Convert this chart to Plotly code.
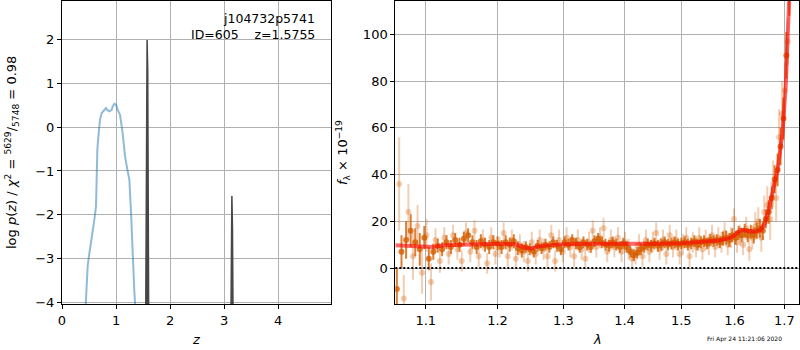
import plotly.graph_objects as go

# ---------------- left panel: log p(z) ----------------
prior_z = [0.40, 0.444, 0.475, 0.506, 0.549, 0.599, 0.630, 0.654, 0.679, 0.704, 0.735,
           0.778, 0.815, 0.840, 0.877, 0.920, 0.938, 0.969, 1.000, 1.031, 1.074,
           1.123, 1.167, 1.210, 1.247, 1.278, 1.309, 1.340, 1.352, 1.38]
prior_logp = [-5.0, -4.0, -3.17, -2.88, -2.56, -2.11, -1.80, -0.52, -0.14, 0.17, 0.32,
              0.39, 0.43, 0.39, 0.36, 0.39, 0.47, 0.53, 0.51, 0.39, 0.28,
              -0.14, -0.67, -0.97, -1.20, -1.95, -3.02, -3.77, -4.0, -5.0]

peak1_z = [1.535, 1.552, 1.564, 1.5755, 1.587, 1.599, 1.616]
peak1_logp = [-8.0, -3.0, 1.3, 1.98, 1.3, -3.0, -8.0]
peak2_z = [3.105, 3.122, 3.134, 3.145, 3.156, 3.168, 3.185]
peak2_logp = [-8.0, -4.6, -2.3, -1.57, -2.3, -4.6, -8.0]

z_ticks = [0, 1, 2, 3, 4]
logp_ticks = [-4, -3, -2, -1, 0, 1, 2]

# ---------------- right panel: spectrum ----------------
lam_dark = [1.062, 1.068, 1.074, 1.080, 1.086, 1.092, 1.098, 1.104, 1.110, 1.116,
            1.122, 1.128, 1.134, 1.140, 1.146, 1.152, 1.158, 1.164, 1.170, 1.176,
            1.182, 1.188, 1.194, 1.200, 1.206, 1.212, 1.218, 1.224, 1.230, 1.236,
            1.242, 1.248, 1.254, 1.260, 1.266, 1.272, 1.278, 1.284, 1.290, 1.296,
            1.302, 1.308, 1.314, 1.320, 1.326, 1.332, 1.338, 1.344, 1.350, 1.356,
            1.362, 1.368, 1.374, 1.380, 1.386, 1.392, 1.398, 1.404, 1.410, 1.416,
            1.422, 1.428, 1.434, 1.440, 1.446, 1.452, 1.458, 1.464, 1.470, 1.476,
            1.482, 1.488, 1.494, 1.500, 1.506, 1.512, 1.518, 1.524, 1.530, 1.536,
            1.542, 1.548, 1.554, 1.560, 1.566, 1.572, 1.578, 1.584, 1.590, 1.596,
            1.602, 1.608, 1.614, 1.620, 1.626, 1.632, 1.638, 1.644, 1.650, 1.656,
            1.662, 1.668, 1.674, 1.680, 1.686, 1.692, 1.698, 1.704, 1.710]
flux_dark = [-9, 7, 12, 16, 11, 8, 13, 4, 7, 9.5,
             8, 11, 9, 12, 10, 12.5, 14, 11, 9, 11.5,
             10, 9, 11, 10.5, 9, 11, 10, 11.5, 8.5, 7.5,
             9, 8, 7, 9.5, 8.5, 10, 9, 11, 9.5, 8,
             11, 10, 12, 10.5, 9, 11, 10, 9, 11.5, 12.5,
             11, 10, 9.5, 11, 10, 9, 10.5, 9, 7, 5.5,
             6.5, 8, 9, 10, 9.5, 10.5, 9.5, 10, 11, 10,
             10.5, 11, 10, 10.5, 11, 10, 10.5, 11.5, 10, 11,
             11.5, 10.5, 12, 11.5, 12, 11, 12.5, 13, 12, 14,
             13, 15, 14, 16, 14, 15.5, 14, 16, 17, 16,
             21, 24, 30, 38, 42, 52, 64, 91, 120]
err_dark = [9, 7, 8, 7, 6, 7, 5, 5, 3.5, 3,
            3, 3, 3, 3, 3, 3, 3, 3, 3, 3,
            3, 3, 3, 3, 3, 3, 3, 3, 3, 3,
            2.5, 2.5, 2.5, 2.5, 2.5, 2.5, 2.5, 2.5, 2.5, 2.5,
            2.5, 2.5, 2.5, 2.5, 2.5, 2.5, 2.5, 2.5, 2.5, 2.5,
            2.5, 2.5, 2.5, 2.5, 2.5, 2.5, 2.5, 2.5, 2.5, 2.5,
            2.5, 2.5, 2.5, 2.5, 2.5, 2.5, 2.5, 2.5, 2.5, 2.5,
            2.5, 2.5, 2.5, 2.5, 2.5, 2.5, 2.5, 2.5, 2.5, 2.5,
            2.5, 2.5, 2.5, 2.5, 2.5, 2.5, 3, 3, 3, 3,
            3, 3, 3, 3, 3, 3, 3.5, 3.5, 4, 4,
            4, 5, 5, 6, 7, 8, 9, 10, 12]

lam_light = [1.065, 1.071, 1.077, 1.083, 1.089, 1.095, 1.101, 1.107, 1.113, 1.119,
             1.125, 1.131, 1.137, 1.143, 1.149, 1.155, 1.161, 1.167, 1.173, 1.179,
             1.185, 1.191, 1.197, 1.203, 1.209, 1.215, 1.221, 1.227, 1.233, 1.239,
             1.245, 1.251, 1.257, 1.263, 1.269, 1.275, 1.281, 1.287, 1.293, 1.299,
             1.305, 1.311, 1.317, 1.323, 1.329, 1.335, 1.341, 1.347, 1.353, 1.359,
             1.365, 1.371, 1.377, 1.383, 1.389, 1.395, 1.401, 1.407, 1.413, 1.419,
             1.425, 1.431, 1.437, 1.443, 1.449, 1.455, 1.461, 1.467, 1.473, 1.479,
             1.485, 1.491, 1.497, 1.503, 1.509, 1.515, 1.521, 1.527, 1.533, 1.539,
             1.545, 1.551, 1.557, 1.563, 1.569, 1.575, 1.581, 1.587, 1.593, 1.599,
             1.605, 1.611, 1.617, 1.623, 1.629, 1.635, 1.641, 1.647, 1.653, 1.659,
             1.665, 1.671, 1.677, 1.683, 1.689, 1.695, 1.701, 1.707]
flux_light = [36, -13, 24, 5, 18, -2, 14, -6, 12, 3,
              13, 6, 14, 8, 3, 15, 7, 16, 5, 12,
              2, 13, 6, 9, 15, 5, 12, 4, 10, 7,
              3, 11, 6, 12, 8, 5, 14, 3, 12, 7,
              13, 9, 5, 12, 8, 4, 11, 16, 9, 13,
              17, 7, 12, 9, 13, 7, 11, 8, 4, 6,
              10, 5, 12, 7, 11, 15, 8, 12, 6, 14,
              9, 12, 6, 10, 13, 5, 11, 9, 13, 8,
              12, 10, 14, 9, 13, 11, 15, 10, 13, 21,
              11, 14, 10, 17, 8, 13, 18, 20, 13, 24,
              27, 21, 36, 30, 56, 66, 76, 97]
err_light = [20, 10, 12, 10, 9, 9, 7, 8, 5, 5,
             4.5, 4.5, 4.5, 4.5, 4.5, 4.5, 4.5, 4.5, 4.5, 4.5,
             4.5, 4.5, 4.5, 4.5, 4.5, 4.5, 4.5, 4.5, 4.5, 4.5,
             4.5, 4.5, 4.5, 4.5, 4.5, 4.5, 4.5, 4.5, 4.5, 4.5,
             4.5, 4.5, 4.5, 4.5, 4.5, 4.5, 4.5, 4.5, 4.5, 4.5,
             4.5, 4.5, 4.5, 4.5, 4.5, 4.5, 4.5, 4.5, 4.5, 4.5,
             4.5, 4.5, 4.5, 4.5, 4.5, 4.5, 4.5, 4.5, 4.5, 4.5,
             4.5, 4.5, 4.5, 4.5, 4.5, 4.5, 4.5, 4.5, 4.5, 4.5,
             4.5, 4.5, 4.5, 4.5, 4.5, 4.5, 4.5, 4.5, 4.5, 4.5,
             4.5, 4.5, 4.5, 5, 5, 5, 6, 6, 6, 7,
             8, 9, 10, 10, 12, 14, 12, 10]

model_lam = [1.060, 1.080, 1.100, 1.110, 1.125, 1.150, 1.200, 1.225, 1.240, 1.250,
             1.262, 1.280, 1.300, 1.350, 1.400, 1.450, 1.500, 1.540, 1.570, 1.590,
             1.600, 1.612, 1.625, 1.640, 1.652, 1.660, 1.666, 1.676, 1.686, 1.696,
             1.703, 1.707, 1.712]
model_flux = [9.8, 9.6, 9.0, 9.0, 9.7, 10.0, 10.4, 10.2, 8.8, 8.4,
              9.3, 9.8, 10.2, 10.4, 10.3, 10.4, 10.6, 11.2, 11.8, 12.8,
              14.0, 16.3, 15.8, 15.5, 16.3, 19.0, 23.4, 32.0, 42.0, 57.7,
              79.0, 100.5, 125.0]

lam_ticks = [1.1, 1.2, 1.3, 1.4, 1.5, 1.6, 1.7]
flux_ticks = [0, 20, 40, 60, 80, 100]

ORANGE = "213,94,0"

fig = go.Figure()

fig.add_trace(go.Scatter(x=prior_z, y=prior_logp, mode="lines",
                         line=dict(color="rgba(31,119,180,0.5)", width=2),
                         xaxis="x", yaxis="y"))
for zz, lp in [(peak1_z, peak1_logp), (peak2_z, peak2_logp)]:
    fig.add_trace(go.Scatter(x=zz, y=lp, mode="lines", fill="toself",
                             fillcolor="#474747",
                             line=dict(color="#474747", width=1.5),
                             xaxis="x", yaxis="y"))

fig.add_trace(go.Scatter(x=lam_light, y=flux_light, mode="markers",
                         marker=dict(color=f"rgba({ORANGE},0.3)", size=6),
                         error_y=dict(type="data", array=err_light, color=f"rgba({ORANGE},0.3)",
                                      thickness=2, width=0),
                         xaxis="x2", yaxis="y2"))
fig.add_trace(go.Scatter(x=lam_dark, y=flux_dark, mode="markers",
                         marker=dict(color=f"rgba({ORANGE},0.8)", size=6),
                         error_y=dict(type="data", array=err_dark, color=f"rgba({ORANGE},0.8)",
                                      thickness=2, width=0),
                         xaxis="x2", yaxis="y2"))
fig.add_trace(go.Scatter(x=model_lam, y=model_flux, mode="lines",
                         line=dict(color="rgba(255,0,0,0.6)", width=4),
                         xaxis="x2", yaxis="y2"))

fig.add_shape(type="line", xref="x2 domain", yref="y2", x0=0, x1=1, y0=0, y1=0,
              line=dict(color="black", width=2, dash="2px,2px"), layer="above")

ax_common = dict(showgrid=True, gridcolor="#b0b0b0", gridwidth=1, showline=True,
                 mirror=True, linecolor="black", linewidth=1, ticks="outside",
                 ticklen=4, tickcolor="black", zeroline=False, automargin=False)
ydom = [1 - 304 / 350, 1 - 1 / 350]

fig.update_layout(
    width=800, height=350, margin=dict(l=0, r=0, t=0, b=0, autoexpand=False),
    paper_bgcolor="white", plot_bgcolor="white", showlegend=False,
    font=dict(family="DejaVu Sans", size=13, color="black"),
    xaxis=dict(domain=[62 / 800, 331 / 800], range=[0, 4.98], tickvals=z_ticks,
               anchor="y", **ax_common),
    yaxis=dict(domain=ydom, range=[-4.03, 2.87], tickvals=logp_ticks,
               anchor="x", **ax_common),
    xaxis2=dict(domain=[395.3 / 800, 799.3 / 800], type="log",
                range=[0.02531, 0.2383], tickvals=lam_ticks,
                ticktext=[f"{v:.1f}" for v in lam_ticks], anchor="y2", **ax_common),
    yaxis2=dict(domain=ydom, range=[-15.4, 114.3], tickvals=flux_ticks,
                anchor="x2", **ax_common),
)

ann = [
    dict(text="j104732p5741", x=317 / 800, y=1 - 19 / 350, xanchor="right", yanchor="middle",
         font=dict(size=12.5)),
    dict(text="ID=605    z=1.5755", x=317 / 800, y=1 - 34 / 350, xanchor="right",
         yanchor="middle", font=dict(size=12.5)),
    dict(text="log <i>p</i>(<i>z</i>) / <i>χ</i><sup>2</sup> = <sup>5629</sup>/<sub>5748</sub> = 0.98",
         x=12 / 800, y=1 - 153 / 350, textangle=-90, xanchor="center", yanchor="middle"),
    dict(text="<i>f</i><sub>λ</sub> × 10<sup>−19</sup>", x=343 / 800, y=1 - 153 / 350,
         textangle=-90, xanchor="center", yanchor="middle"),
    dict(text="<i>z</i>", x=196.5 / 800, y=1 - 339 / 350, xanchor="center", yanchor="middle"),
    dict(text="<i>λ</i>", x=597 / 800, y=1 - 339 / 350, xanchor="center", yanchor="middle"),
    dict(text="Fri Apr 24 11:21:06 2020", x=744 / 800, y=1 - 339 / 350, xanchor="center",
         yanchor="middle", font=dict(size=6)),
]
for a in ann:
    fig.add_annotation(xref="paper", yref="paper", showarrow=False, **a)

fig.write_html("out.html", config={"displayModeBar": False},
               post_script="document.body.style.margin='0';document.body.style.padding='0';")
